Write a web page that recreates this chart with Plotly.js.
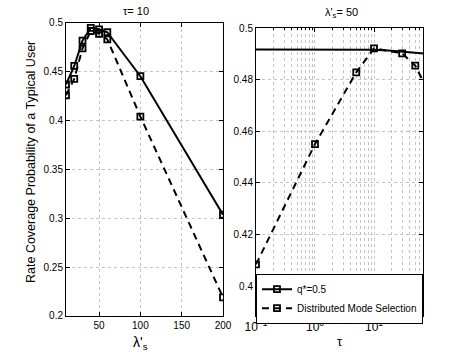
<!DOCTYPE html>
<html>
<head>
<meta charset="utf-8">
<script src="https://cdn.plot.ly/plotly-3.0.1.min.js"></script>
<style>
  html, body { margin: 0; padding: 0; background: #fff; }
  #myDiv { width: 471px; height: 352px; }
</style>
</head>
<body>
<div id="myDiv"></div>
<script>
// left panel: tau = 10, x = lambda'_s
let lambdaS = [10, 20, 30, 40, 50, 60, 100, 200];
let covFixedL = [0.437, 0.456, 0.482, 0.495, 0.4935, 0.4905, 0.4455, 0.3037];
let covDistL = [0.426, 0.4427, 0.474, 0.4918, 0.489, 0.4833, 0.4042, 0.219];

// right panel: lambda'_s = 50, x = tau
let tauFixed = [0.1, 1, 5, 10, 20, 30, 50, 70];
let covFixedR = [0.4918, 0.4918, 0.4918, 0.4917, 0.4913, 0.4909, 0.4905, 0.4902];
let tauDist = [0.1, 1, 5, 10, 30, 50, 100];
let covDistR = [0.4084, 0.4551, 0.4829, 0.4922, 0.4903, 0.4855, 0.472];

let names = ['q*=0.5', 'Distributed Mode Selection'];
let tauTicks = [0.1, 1, 10];
let tauTickText = ['10<sup>\u22121</sup>', '10<sup>0</sup>', '10<sup>1</sup>'];
let tauMinor = [0.2, 0.3, 0.4, 0.5, 0.6, 0.7, 0.8, 0.9, 2, 3, 4, 5, 6, 7, 8, 9, 20, 30, 40, 50, 60];

let solid = {color: 'black', width: 2};
let dashed = {color: 'black', width: 2, dash: '7px,5px'};
let mk = {symbol: 'square-open', size: 6, color: 'black', line: {width: 1.8, color: 'black'}};

let traces = [
    {x: lambdaS, y: covFixedL, name: names[0], mode: 'lines+markers', line: solid, marker: mk, xaxis: 'x', yaxis: 'y'},
    {x: lambdaS, y: covDistL, name: names[1], mode: 'lines+markers', line: dashed, marker: mk, xaxis: 'x', yaxis: 'y'},
    {x: tauFixed, y: covFixedR, name: names[0], mode: 'lines', line: solid, showlegend: false, xaxis: 'x2', yaxis: 'y2'},
    {x: tauDist, y: covDistR, name: names[1], mode: 'lines+markers', line: dashed, marker: mk, showlegend: false, xaxis: 'x2', yaxis: 'y2', cliponaxis: true}
];

let tickFont = {family: 'Liberation Sans, Arial, sans-serif', size: 10, color: 'black'};
let ax = {
    showline: true, linecolor: 'black', linewidth: 1, mirror: 'ticks',
    ticks: 'inside', ticklen: 4, tickcolor: 'black',
    showgrid: true, gridcolor: '#c4c4c4', griddash: 'dot', gridwidth: 1,
    zeroline: false, tickfont: tickFont
};

let layout = {
    width: 471, height: 352,
    margin: {l: 0, r: 0, t: 0, b: 0},
    paper_bgcolor: 'white', plot_bgcolor: 'white',
    showlegend: true,
    font: {family: 'Liberation Sans, Arial, sans-serif', color: 'black'},
    xaxis: Object.assign({}, ax, {domain: [0.1401, 0.4735], range: [10, 200], tickvals: [50, 100, 150, 200]}),
    yaxis: Object.assign({}, ax, {domain: [0.1023, 0.9347], range: [0.2, 0.5], tickvals: [0.2, 0.25, 0.3, 0.35, 0.4, 0.45, 0.5], ticktext: ['0.2', '0.25', '0.3', '0.35', '0.4', '0.45', '0.5'], anchor: 'x'}),
    xaxis2: Object.assign({}, ax, {domain: [0.5435, 0.8987], type: 'log', range: [-1, 1.835],
        tickmode: 'array', tickvals: tauTicks, ticktext: tauTickText, anchor: 'y2',
        tickfont: {family: 'Liberation Sans, Arial, sans-serif', size: 12, color: 'black'},
        minor: {tickmode: 'array', tickvals: tauMinor, showgrid: true, gridcolor: '#c4c4c4', griddash: 'dot', ticks: 'inside', ticklen: 2, tickcolor: 'black'}}),
    yaxis2: Object.assign({}, ax, {domain: [0.1023, 0.9196], range: [0.3884, 0.5], dtick: 0.02, anchor: 'x2'}),
    legend: {
        x: 0.5435, y: 0.2224, xanchor: 'left', yanchor: 'top',
        bgcolor: 'white', bordercolor: 'black', borderwidth: 1,
        font: {size: 10, color: 'black'}, tracegroupgap: 0
    },
    annotations: [
        {text: '\u03c4= 10', font: {size: 11}},
        {text: 'Rate Coverage Probability of a Typical User', textangle: -90, font: {size: 12.5}},
        {text: "\u03bb'<sub>s</sub>", font: {size: 14}},
        {text: "\u03bb'<sub>s</sub>= 50", font: {size: 11}},
        {text: '\u03c4', font: {size: 13}}
    ]
};

// annotation positions in pixels -> paper
let pos = [[136, 11], [31, 162], [140, 343], [341, 13], [340, 341]];
layout.annotations.forEach(function (a, i) {
    a.x = pos[i][0] / 471; a.y = 1 - pos[i][1] / 352;
    a.xref = 'paper'; a.yref = 'paper'; a.showarrow = false;
    a.xanchor = 'center'; a.yanchor = 'middle';
});

Plotly.newPlot('myDiv', traces, layout, {staticPlot: true});
</script>
</body>
</html>
